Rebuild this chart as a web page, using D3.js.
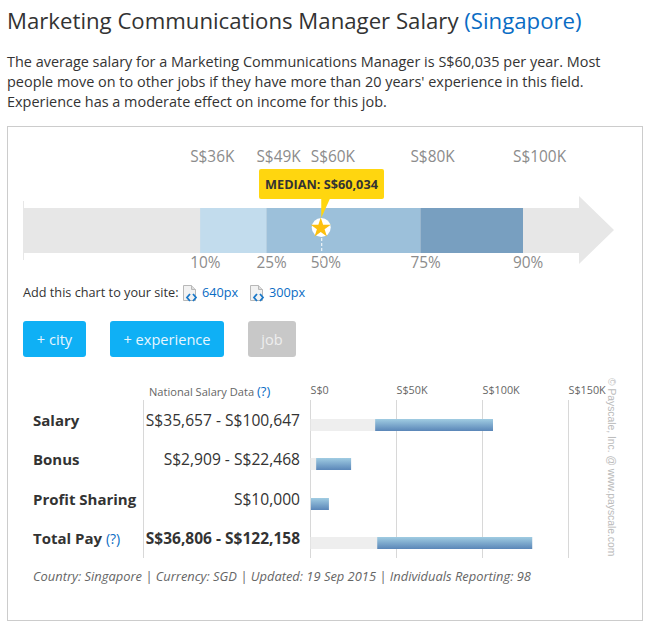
<!DOCTYPE html>
<html><head><meta charset="utf-8">
<script src="https://cdn.jsdelivr.net/npm/d3@7"></script>
<style>html,body{margin:0;padding:0;background:#fff}svg{display:block}text{font-family:"Open Sans",sans-serif}</style>
</head><body><svg id="c" width="649" height="627"></svg>
<script>
const introLines = ["The average salary for a Marketing Communications Manager is S$60,035 per year. Most","people move on to other jobs if they have more than 20 years' experience in this field.","Experience has a moderate effect on income for this job."];
const percentiles = [10,25,50,75,90];
const percentileValues = [35.657,49,60.034,80,100.647];
const percentileLabels = ["S$36K","S$49K","S$60K","S$80K","S$100K"];
const bandColors = ["#c2dced","#9cc0da","#789fc0"];
const payCategories = ["Salary","Bonus","Profit Sharing","Total Pay"];
const payText = ["S$35,657 - S$100,647","S$2,909 - S$22,468","S$10,000","S$36,806 - S$122,158"];
const payLow = [37.6,3.3,0.2,38.8];
const payHigh = [106.1,23.6,10.7,128.9];
const payTicks = [0,50,100,150];
const payTickLabels = ["S$0","S$50K","S$100K","S$150K"];
const buttons = [["+ city",23,63,"#0fb0f5"],["+ experience",110,114,"#0fb0f5"],["job",248,48,"#c8c8c8"]];

const svg = d3.select("#c");
const T=(x,y,s,size,fill,o={})=>{const t=svg.append("text").attr("x",x).attr("y",y).attr("font-size",size).attr("fill",fill).text(s);
 for(const k in o)t.attr(k,o[k]);return t;};

// header
const h=T(7,29,"Marketing Communications Manager Salary ",22.2,"#333");
h.append("tspan").attr("fill","#0a6cc4").text("(Singapore)");
introLines.forEach((l,i)=>T(7,67+i*20,l,14.45,"#333"));
svg.append("rect").attr("x",7.5).attr("y",126.5).attr("width",635).attr("height",494).attr("fill","#fff").attr("stroke","#ccc");

// percentile arrow
const x=d3.scaleLinear().domain([0,100.647]).range([23,523]);
const yTop=208,yBot=253;
svg.append("path").attr("fill","#e7e7e7").attr("d",d3.line()([[23,yTop],[579,yTop],[579,196],[614,230],[579,264],[579,yBot],[23,yBot]])+"Z");
svg.append("line").attr("x1",23.5).attr("x2",23.5).attr("y1",201).attr("y2",260).attr("stroke","#e7e7e7");
const bandIdx=[[0,1,0],[1,3,1],[3,4,2]];
bandIdx.forEach(([a,b,c])=>svg.append("rect").attr("x",x(percentileValues[a])).attr("width",x(percentileValues[b])-x(percentileValues[a])).attr("y",yTop).attr("height",yBot-yTop).attr("fill",bandColors[c]));
percentiles.forEach((p,i)=>{
 const px=x(percentileValues[i]);
 const lx = i==2? px-10.5 : px-10;
 T(lx,162,percentileLabels[i],15.4,"#8c8c8c");
 T(lx,268,p+"%",15.4,"#8c8c8c");
});
const mx=x(percentileValues[2]);
svg.append("line").attr("x1",mx+.5).attr("x2",mx+.5).attr("y1",238).attr("y2",264).attr("stroke","#fff").attr("stroke-dasharray","3 2");
svg.append("path").attr("fill","#ffd60f").attr("d",d3.line()([[mx,198],[mx+9,198],[mx,218]])+"Z");
svg.append("rect").attr("x",259).attr("y",169).attr("width",125).attr("height",30).attr("rx",2).attr("fill","#ffd60f");
T(321.5,189,"MEDIAN: S$60,034",12.7,"#333",{"font-weight":700,"text-anchor":"middle"});
svg.append("circle").attr("cx",mx).attr("cy",227.5).attr("r",9.5).attr("fill","#fff");
svg.append("path").attr("transform",`translate(${mx-.5},228)`).attr("fill","#fdc00f").attr("d",d3.symbol(d3.symbolStar,125)());

// embed
T(23,297,"Add this chart to your site:",12.7,"#333");
[[183,"640px"],[250,"300px"]].forEach(([ix,s])=>{
 const ic=svg.append("g").attr("transform",`translate(${ix},285)`);
 ic.append("path").attr("d","M.5 .5H8.5L12.5 4.5V15.5H.5Z").attr("fill","#f2f2f2").attr("stroke","#b8b8b8");
 ic.append("path").attr("d","M8.5 .5V4.5H12.5").attr("fill","#ddd").attr("stroke","#b8b8b8");
 ic.append("path").attr("d","M7 9L4 12.5L7 16M10 9L13 12.5L10 16").attr("fill","none").attr("stroke","#1a78c8").attr("stroke-width",1.8);
 T(ix+19,297,s,12.7,"#0a6cc4");
});

// buttons
buttons.forEach(([s,bx,w,c])=>{
 svg.append("rect").attr("x",bx).attr("y",321).attr("width",w).attr("height",36).attr("rx",3).attr("fill",c);
 T(bx+w/2,345,s,14.6,c=="#c8c8c8"?"#eee":"#e8f6fe",{"text-anchor":"middle"});
});

// pay chart
const px=d3.scaleLinear().domain([0,150]).range([310.5,568.5]);
const rows=[425,464,504,543];
const yTopG=400,yBotG=558;
svg.append("line").attr("x1",143.5).attr("x2",143.5).attr("y1",yTopG).attr("y2",yBotG).attr("stroke","#d8d8d8");
payTicks.forEach((t,i)=>{
 svg.append("line").attr("x1",px(t)).attr("x2",px(t)).attr("y1",yTopG).attr("y2",yBotG).attr("stroke","#d8d8d8");
 T(px(t),394,payTickLabels[i],10.8,"#666");
});
const hd=T(149,396,"National Salary Data ",11.1,"#666");
hd.append("tspan").attr("fill","#0a6cc4").attr("font-size",13).text("(?)");
const defs=svg.append("defs");
const g=defs.append("linearGradient").attr("id","bar").attr("x1",0).attr("x2",0).attr("y1",0).attr("y2",1);
g.append("stop").attr("offset",0).attr("stop-color","#a0cce2");
g.append("stop").attr("offset",1).attr("stop-color","#5a86b8");
payCategories.forEach((c,i)=>{
 const b=i==3;
 const t=T(33,rows[i]+1,c+(b?" ":""),15,"#333",{"font-weight":700});
 if(b) t.append("tspan").attr("fill","#0a6cc4").attr("font-weight",400).attr("font-size",14).text("(?)");
 T(300,rows[i]+1,payText[i],b?15.5:15.6,"#333",{"text-anchor":"end","font-weight":b?700:400});
 svg.append("rect").attr("x",px(0)).attr("width",px(payHigh[i])-px(0)).attr("y",rows[i]-6).attr("height",12).attr("fill","#eee");
 svg.append("rect").attr("x",px(payLow[i])).attr("width",px(payHigh[i])-px(payLow[i])).attr("y",rows[i]-6).attr("height",12).attr("fill","url(#bar)");
});
T(33,581,"Country: Singapore | Currency: SGD | Updated: 19 Sep 2015 | Individuals Reporting: 98",12.9,"#666",{"font-style":"italic"});
svg.append("text").attr("transform","translate(608,378) rotate(90)").attr("font-size",10.3).attr("fill","#bbb").attr("style","font-family:'Liberation Sans',sans-serif").text("© Payscale, Inc. @ www.payscale.com");
</script></body></html>
